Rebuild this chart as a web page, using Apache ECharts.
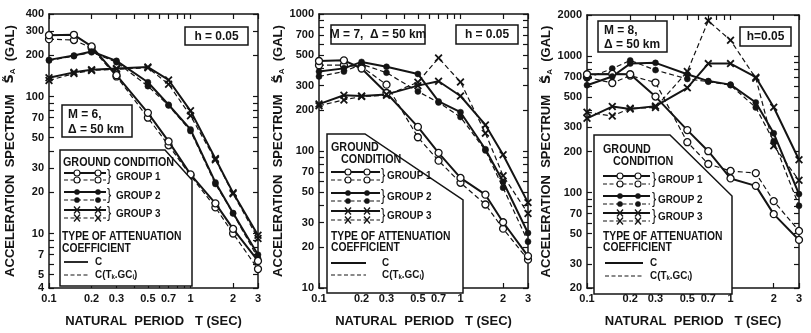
<!DOCTYPE html>
<html><head><meta charset="utf-8">
<script src="https://cdn.jsdelivr.net/npm/echarts@6/dist/echarts.min.js"></script>
<style>html,body{margin:0;padding:0;background:#fff}#c{width:811px;height:333px}</style>
</head><body><div id="c"></div>
<script>
// ---------- data ----------
const periods = [0.1, 0.15, 0.2, 0.3, 0.5, 0.7, 1, 1.5, 2, 3];
const periodTicks = [0.1,0.2,0.3,0.4,0.5,0.6,0.7,0.8,0.9,1,2,3];
const periodLabels = [0.1,0.2,0.3,0.5,0.7,1,2,3];

// M = 6
const m6Ticks = [4,5,6,7,8,9,10,20,30,40,50,60,70,80,90,100,200,300,400];
const m6Labels = [4,5,7,10,20,30,50,70,100,200,300,400];
const m6G1C  = [280, 282, 232, 143, 76, 47, 27, 16.6, 10.8, 6.3];
const m6G1T  = [262, 258, 226, 140, 70, 44, 26.5, 15.5, 10.0, 5.5];
const m6G2C  = [185, 199, 213, 182, 127, 87, 57.5, 23.6, 14.1, 7.0];
const m6G2T  = [183, 197, 210, 178, 119, 86, 56, 23, 14, 6.6];
const m6G3C  = [137, 150, 157, 160, 164, 132, 78.6, 35.2, 19.8, 9.7];
const m6G3T  = [131, 147, 155, 158, 162, 123, 72.4, 34.5, 19.5, 9.2];

// M = 7
const m7Ticks = [10,20,30,40,50,60,70,80,90,100,200,300,400,500,600,700,800,900,1000];
const m7Labels = [10,20,30,50,70,100,200,300,500,700,1000];
const m7G1C  = [454, 459, 400, 265, 150, 97, 63.6, 48, 30.2, 17.1];
const m7G1T  = [423, 423, 412, 305, 126, 85, 58.6, 40.7, 27.1, 16.1];
const m7G2C  = [380, 401, 447, 412, 365, 230, 192, 103, 59.6, 25.2];
const m7G2T  = [350, 380, 430, 373, 272, 226, 177, 101, 54, 21.8];
const m7G3C  = [220, 255, 252, 259, 300, 323, 252, 155, 94, 42];
const m7G3T  = [214, 236, 250, 255, 318, 477, 319, 135, 66, 35];

// M = 8
const m8Ticks = [20,30,40,50,60,70,80,90,100,200,300,400,500,600,700,800,900,1000,2000];
const m8Labels = [20,30,50,70,100,200,300,500,700,1000,2000];
const m8G1C  = [736, 740, 736, 505, 287, 201, 127, 112, 69.5, 45];
const m8G1T  = [700, 635, 720, 640, 234, 162, 144, 139, 86.5, 52.4];
const m8G2C  = [612, 708, 881, 892, 736, 656, 618, 457, 272, 97.5];
const m8G2T  = [690, 810, 930, 790, 680, 650, 612, 420, 238, 80];
const m8G3C  = [350, 427, 410, 430, 585, 881, 881, 700, 422, 174];
const m8G3T  = [388, 364, 415, 420, 770, 1812, 1306, 689, 220, 123];

const panelData = [
  {ymin:4, ymax:400, ticks:m6Ticks, labels:m6Labels, g:[[m6G1C,m6G1T],[m6G2C,m6G2T],[m6G3C,m6G3T]]},
  {ymin:10, ymax:1000, ticks:m7Ticks, labels:m7Labels, g:[[m7G1C,m7G1T],[m7G2C,m7G2T],[m7G3C,m7G3T]]},
  {ymin:20, ymax:2000, ticks:m8Ticks, labels:m8Labels, g:[[m8G1C,m8G1T],[m8G2C,m8G2T],[m8G3C,m8G3T]]}
];

// ---------- layout / style ----------
const INK = '#141414';
const FONT = '"Liberation Sans",Arial,sans-serif';
const grids = [
  {left:49, top:14, width:209, height:281},
  {left:319, top:14, width:209, height:282},
  {left:587, top:15, width:212, height:281}
];
const yNameGap = [32, 33, 33];
const XPATH = 'path://M0,1.6L1.6,0L5,3.4L8.4,0L10,1.6L6.6,5L10,8.4L8.4,10L5,6.6L1.6,10L0,8.4L3.4,5Z';
const groupSym = [
  {symbol:'circle', size:7, item:{color:'#fff', borderColor:INK, borderWidth:1.3}},
  {symbol:'circle', size:6, item:{color:INK, borderColor:INK, borderWidth:0.5}},
  {symbol:XPATH, size:8, item:{color:INK}}
];
const lineTypes = [
  {width:2, type:'solid'},
  {width:1.2, type:[5,3]}
];

const xAxes = [], yAxes = [], series = [];
panelData.forEach((p, i) => {
  const common = {type:'log', logBase:10, min:0.1, max:3, gridIndex:i,
    axisLine:{show:true, lineStyle:{color:INK, width:1.5}},
    splitLine:{show:false}};
  xAxes.push(Object.assign({}, common, {
    position:'bottom',
    name:'NATURAL  PERIOD   T (SEC)', nameLocation:'middle', nameGap:27,
    nameTextStyle:{fontSize:13, fontWeight:'bold', color:INK, fontFamily:FONT},
    axisTick:{show:true, inside:true, length:5, customValues:periodTicks, lineStyle:{color:INK, width:1.2}},
    axisLabel:{show:true, customValues:periodLabels, margin:5, fontSize:11, fontWeight:'bold', color:INK,
      fontFamily:FONT, formatter:v => String(+v.toFixed(2))}
  }));
  xAxes.push(Object.assign({}, common, {
    position:'top',
    axisTick:{show:true, inside:true, length:5, customValues:periodTicks, lineStyle:{color:INK, width:1.2}},
    axisLabel:{show:false, customValues:periodLabels}
  }));
  const yc = {type:'log', logBase:10, min:p.ymin, max:p.ymax, gridIndex:i,
    axisLine:{show:true, lineStyle:{color:INK, width:1.5}}, splitLine:{show:false}};
  yAxes.push(Object.assign({}, yc, {
    position:'left',
    name:'{t|ACCELERATION  SPECTRUM   }{s|S\u0303}{a|A}{t|  (GAL)}', nameLocation:'middle', nameRotate:90, nameGap:yNameGap[i],
    nameTextStyle:{rich:{
      t:{fontSize:13, fontWeight:'bold', color:INK, fontFamily:FONT},
      s:{fontSize:13, fontWeight:'bold', color:INK, fontFamily:'"DejaVu Sans",sans-serif'},
      a:{fontSize:8, fontWeight:'bold', color:INK, verticalAlign:'bottom', padding:[6,0,0,0]}
    }},
    axisTick:{show:true, inside:true, length:5, customValues:p.ticks, lineStyle:{color:INK, width:1.2}},
    axisLabel:{show:true, customValues:p.labels, margin:5, fontSize:11, fontWeight:'bold', color:INK,
      fontFamily:FONT, formatter:v => String(Math.round(v))}
  }));
  yAxes.push(Object.assign({}, yc, {
    position:'right',
    axisTick:{show:true, inside:true, length:5, customValues:p.ticks, lineStyle:{color:INK, width:1.2}},
    axisLabel:{show:false, customValues:p.labels}
  }));
  p.g.forEach((pair, gi) => {
    pair.forEach((vals, ti) => {
      series.push({
        type:'line', xAxisIndex:2*i, yAxisIndex:2*i,
        data: periods.map((t, k) => [t, vals[k]]),
        symbol: groupSym[gi].symbol, symbolSize: groupSym[gi].size,
        itemStyle: groupSym[gi].item,
        lineStyle:{color:INK, width:lineTypes[ti].width, type:lineTypes[ti].type},
        z: 3 + (1 - ti), silent:true, animation:false
      });
    });
  });
});

// ---------- annotation boxes and legends (graphic) ----------
const G = [];
function txt(s, x, y, size, align, extra, sx) {
  G.push({type:'text', x:x, y:y, z:50, scaleX: sx || 1, style:Object.assign({text:s, fill:INK, fontSize:size, fontWeight:'bold',
    fontFamily:FONT, align:align||'left', textAlign:align||'left', verticalAlign:'middle', textVerticalAlign:'middle'}, extra||{})});
}
function rect(x, y, w, h) {
  G.push({type:'rect', z:40, shape:{x:x, y:y, width:w, height:h}, style:{fill:'#fff', stroke:INK, lineWidth:1.5}});
}
const boxes = [
  {r:[185,27,63,18], lines:[['h = 0.05',216.5,36,'center',13]]},
  {r:[62,105,70,32], lines:[['M = 6,',68,114,'left',13],['\u0394 = 50 km',68,129,'left',13]]},
  {r:[456,25,62,19], lines:[['h = 0.05',487,34.5,'center',13]]},
  {r:[331,25,94,19], lines:[['M = 7,  \u0394 = 50 km',378,34.5,'center',13]]},
  {r:[598,21,69,31], lines:[['M = 8,',604,30,'left',13],['\u0394 = 50 km',604,44,'left',13]]},
  {r:[740,27,51,19], lines:[['h=0.05',765.5,36.5,'center',13]]}
];
boxes.forEach(b => { rect(...b.r); b.lines.forEach(l => txt(l[0], l[1], l[2], l[4], l[3], null, 0.92)); });

const legendLayouts = [
  {box:[[60,150],[165,150],[192,180],[192,286],[60,286]],
   heads:[['GROUND CONDITION',63,163]],
   lx:[64,106], mx:[77,98], gy:[[173,180],[192,200],[210,218]], bx:107, tx:116,
   types:[['TYPE OF ATTENUATION',62,237],['COEFFICIENT',62,249]],
   cy:[262,275], cx:[64,88], ctx:95},
  {box:[[327,134],[365,134],[463,200],[463,293],[327,293]],
   heads:[['GROUND',331,148],['CONDITION',341,160]],
   lx:[331,380], mx:[348,367], gy:[[172,180],[193,201],[211,220]], bx:381, tx:387,
   types:[['TYPE OF ATTENUATION',331,237],['COEFFICIENT',331,248]],
   cy:[263,275], cx:[331,366], ctx:382},
  {box:[[594,135],[670,135],[732,196],[732,294],[594,294]],
   heads:[['GROUND',603,150],['CONDITION',613,162]],
   lx:[603,650], mx:[620,638], gy:[[176,184],[196,204],[213,221]], bx:652, tx:658,
   types:[['TYPE OF ATTENUATION',603,237],['COEFFICIENT',603,248]],
   cy:[263,276], cx:[605,643], ctx:650}
];
const LSX = 0.86;
function hline(x1, x2, y, ti) {
  G.push({type:'line', z:45, shape:{x1:x1, y1:y, x2:x2, y2:y},
    style:{stroke:INK, lineWidth:ti ? 1.1 : 1.8, lineDash: ti ? [4,2.5] : null}});
}
function marker(gi, x, y) {
  if (gi === 0) G.push({type:'circle', z:46, shape:{cx:x, cy:y, r:3}, style:{fill:'#fff', stroke:INK, lineWidth:1.1}});
  else if (gi === 1) G.push({type:'circle', z:46, shape:{cx:x, cy:y, r:2.6}, style:{fill:INK, stroke:INK, lineWidth:0.5}});
  else {
    G.push({type:'line', z:46, shape:{x1:x-3, y1:y-3.5, x2:x+3, y2:y+3.5}, style:{stroke:INK, lineWidth:1.3}});
    G.push({type:'line', z:46, shape:{x1:x+3, y1:y-3.5, x2:x-3, y2:y+3.5}, style:{stroke:INK, lineWidth:1.3}});
  }
}
legendLayouts.forEach(L => {
  G.push({type:'polygon', z:40, shape:{points:L.box}, style:{fill:'#fff', stroke:INK, lineWidth:1.5}});
  L.heads.forEach(h => txt(h[0], h[1], h[2], 12.5, 'left', null, LSX));
  L.gy.forEach((ys, gi) => {
    ys.forEach((y, ti) => { hline(L.lx[0], L.lx[1], y, ti); L.mx.forEach(x => marker(gi, x, y)); });
    txt('}', L.bx, (ys[0]+ys[1])/2, 16, 'left', {fontWeight:'normal'}, 0.8);
    txt('GROUP ' + (gi+1), L.tx, (ys[0]+ys[1])/2, 11.5, 'left', null, LSX);
  });
  L.types.forEach(t => txt(t[0], t[1], t[2], 12, 'left', null, LSX));
  hline(L.cx[0], L.cx[1], L.cy[0], 0);
  hline(L.cx[0], L.cx[1], L.cy[1], 1);
  txt('C', L.ctx, L.cy[0], 11.5, 'left', null, LSX);
  txt('C(T{s|k}.GC{s|i})', L.ctx, L.cy[1], 11.5, 'left',
    {rich:{s:{fontSize:7, fontWeight:'bold', fontFamily:FONT, fill:INK, verticalAlign:'bottom', padding:[5,0,0,0]}}}, LSX);
});

const chart = echarts.init(document.getElementById('c'), null, {renderer:'canvas'});
chart.setOption({
  backgroundColor:'#fff',
  animation:false,
  grid: grids,
  xAxis: xAxes,
  yAxis: yAxes,
  series: series,
  graphic: {elements: G}
});
</script>
</body></html>
